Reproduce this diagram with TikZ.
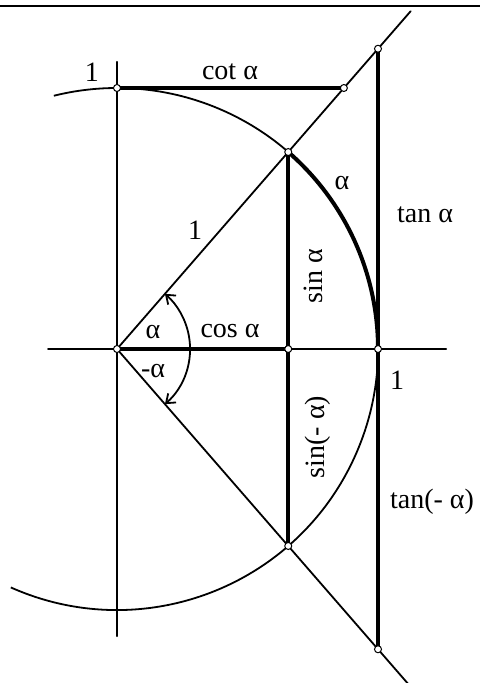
\documentclass[tikz,border=0pt]{standalone}
\usepackage{fontspec}
\setmainfont{Liberation Serif}
\usepackage{tikz}
\usetikzlibrary{calc, arrows.meta}
\usepackage{tkz-euclide}

\begin{document}
\begin{tikzpicture}[x=261pt, y=261pt,
    thinline/.style={line width=1.8pt},
    thickline/.style={line width=4pt},
    lbl/.style={font=\fontsize{28}{32}\selectfont, inner sep=0pt}]
                \useasboundingbox (-117pt,-334pt) rectangle (363pt,349pt);
                \draw[line width=2pt] (-117pt,343pt) -- (363pt,343pt);
                \tkzDefPoint(0,0){O}
                \tkzDefPoint(0.6561,0.7547){A}
                \tkzDefPoint(0.6561,-0.7547){B}
                \tkzDefPoint(0.6561,0){H}
                \tkzDefPoint(1,0){I}
                \tkzDefPoint(0,1){J}
                \tkzDefPoint(0.8693,1){K}
                \tkzDefPoint(1,1.1504){T}
                \tkzDefPoint(1,-1.1504){U}
                \tkzDefPoint(-0.264,0){X1}
                \tkzDefPoint(1.261,0){X2}
                \tkzDefPoint(0,1.1){Y1}
                \tkzDefPoint(0,-1.1){Y2}
                \coordinate (E) at ($(O)!1.715!(A)$);
                \coordinate (F) at ($(O)!1.7!(B)$);
                \tkzDrawSegments[thinline](X1,X2 Y1,Y2 O,E O,F)
                \draw[thinline] ($(O)+(-114:1)$) arc[start angle=-114, end angle=104, radius=1];
                \draw[thickline] (A) arc[start angle=49, end angle=0, radius=1];
                \tkzDrawSegments[thickline](O,H A,B J,K T,U)
                \draw[thinline, {Straight Barb[length=8pt,width=12pt]}-{Straight Barb[length=8pt,width=12pt]}]
                    ($(O)+(-49:0.28)$) arc[start angle=-49, end angle=49, radius=0.28];
                \foreach \p in {O,A,B,H,I,J,K,T,U}
                    \filldraw[fill=white, line width=1pt] (\p) circle[radius=3.5pt];
                \node[lbl] (one1) at (-25pt,277pt) {1};
                \node[lbl] (cot) at (113pt,277pt) {cot α};
                \node[lbl] (arcA) at (225pt,166pt) {α};
                \node[lbl] (tan) at (308pt,134pt) {tan α};
                \node[lbl] (one2) at (78pt,119pt) {1};
                \node[lbl, rotate=90] (sin) at (196pt,73pt) {sin α};
                \node[lbl] (angA) at (36pt,17pt) {α};
                \node[lbl] (cos) at (113pt,18pt) {cos α};
                \node[lbl] (angB) at (36pt,-22pt) {-α};
                \node[lbl] (one3) at (280pt,-31pt) {1};
                \node[lbl, rotate=90] (sinm) at (201pt,-88pt) {sin(- α)};
                \node[lbl] (tanm) at (315pt,-153pt) {tan(- α)};
            \end{tikzpicture}
\end{document}
